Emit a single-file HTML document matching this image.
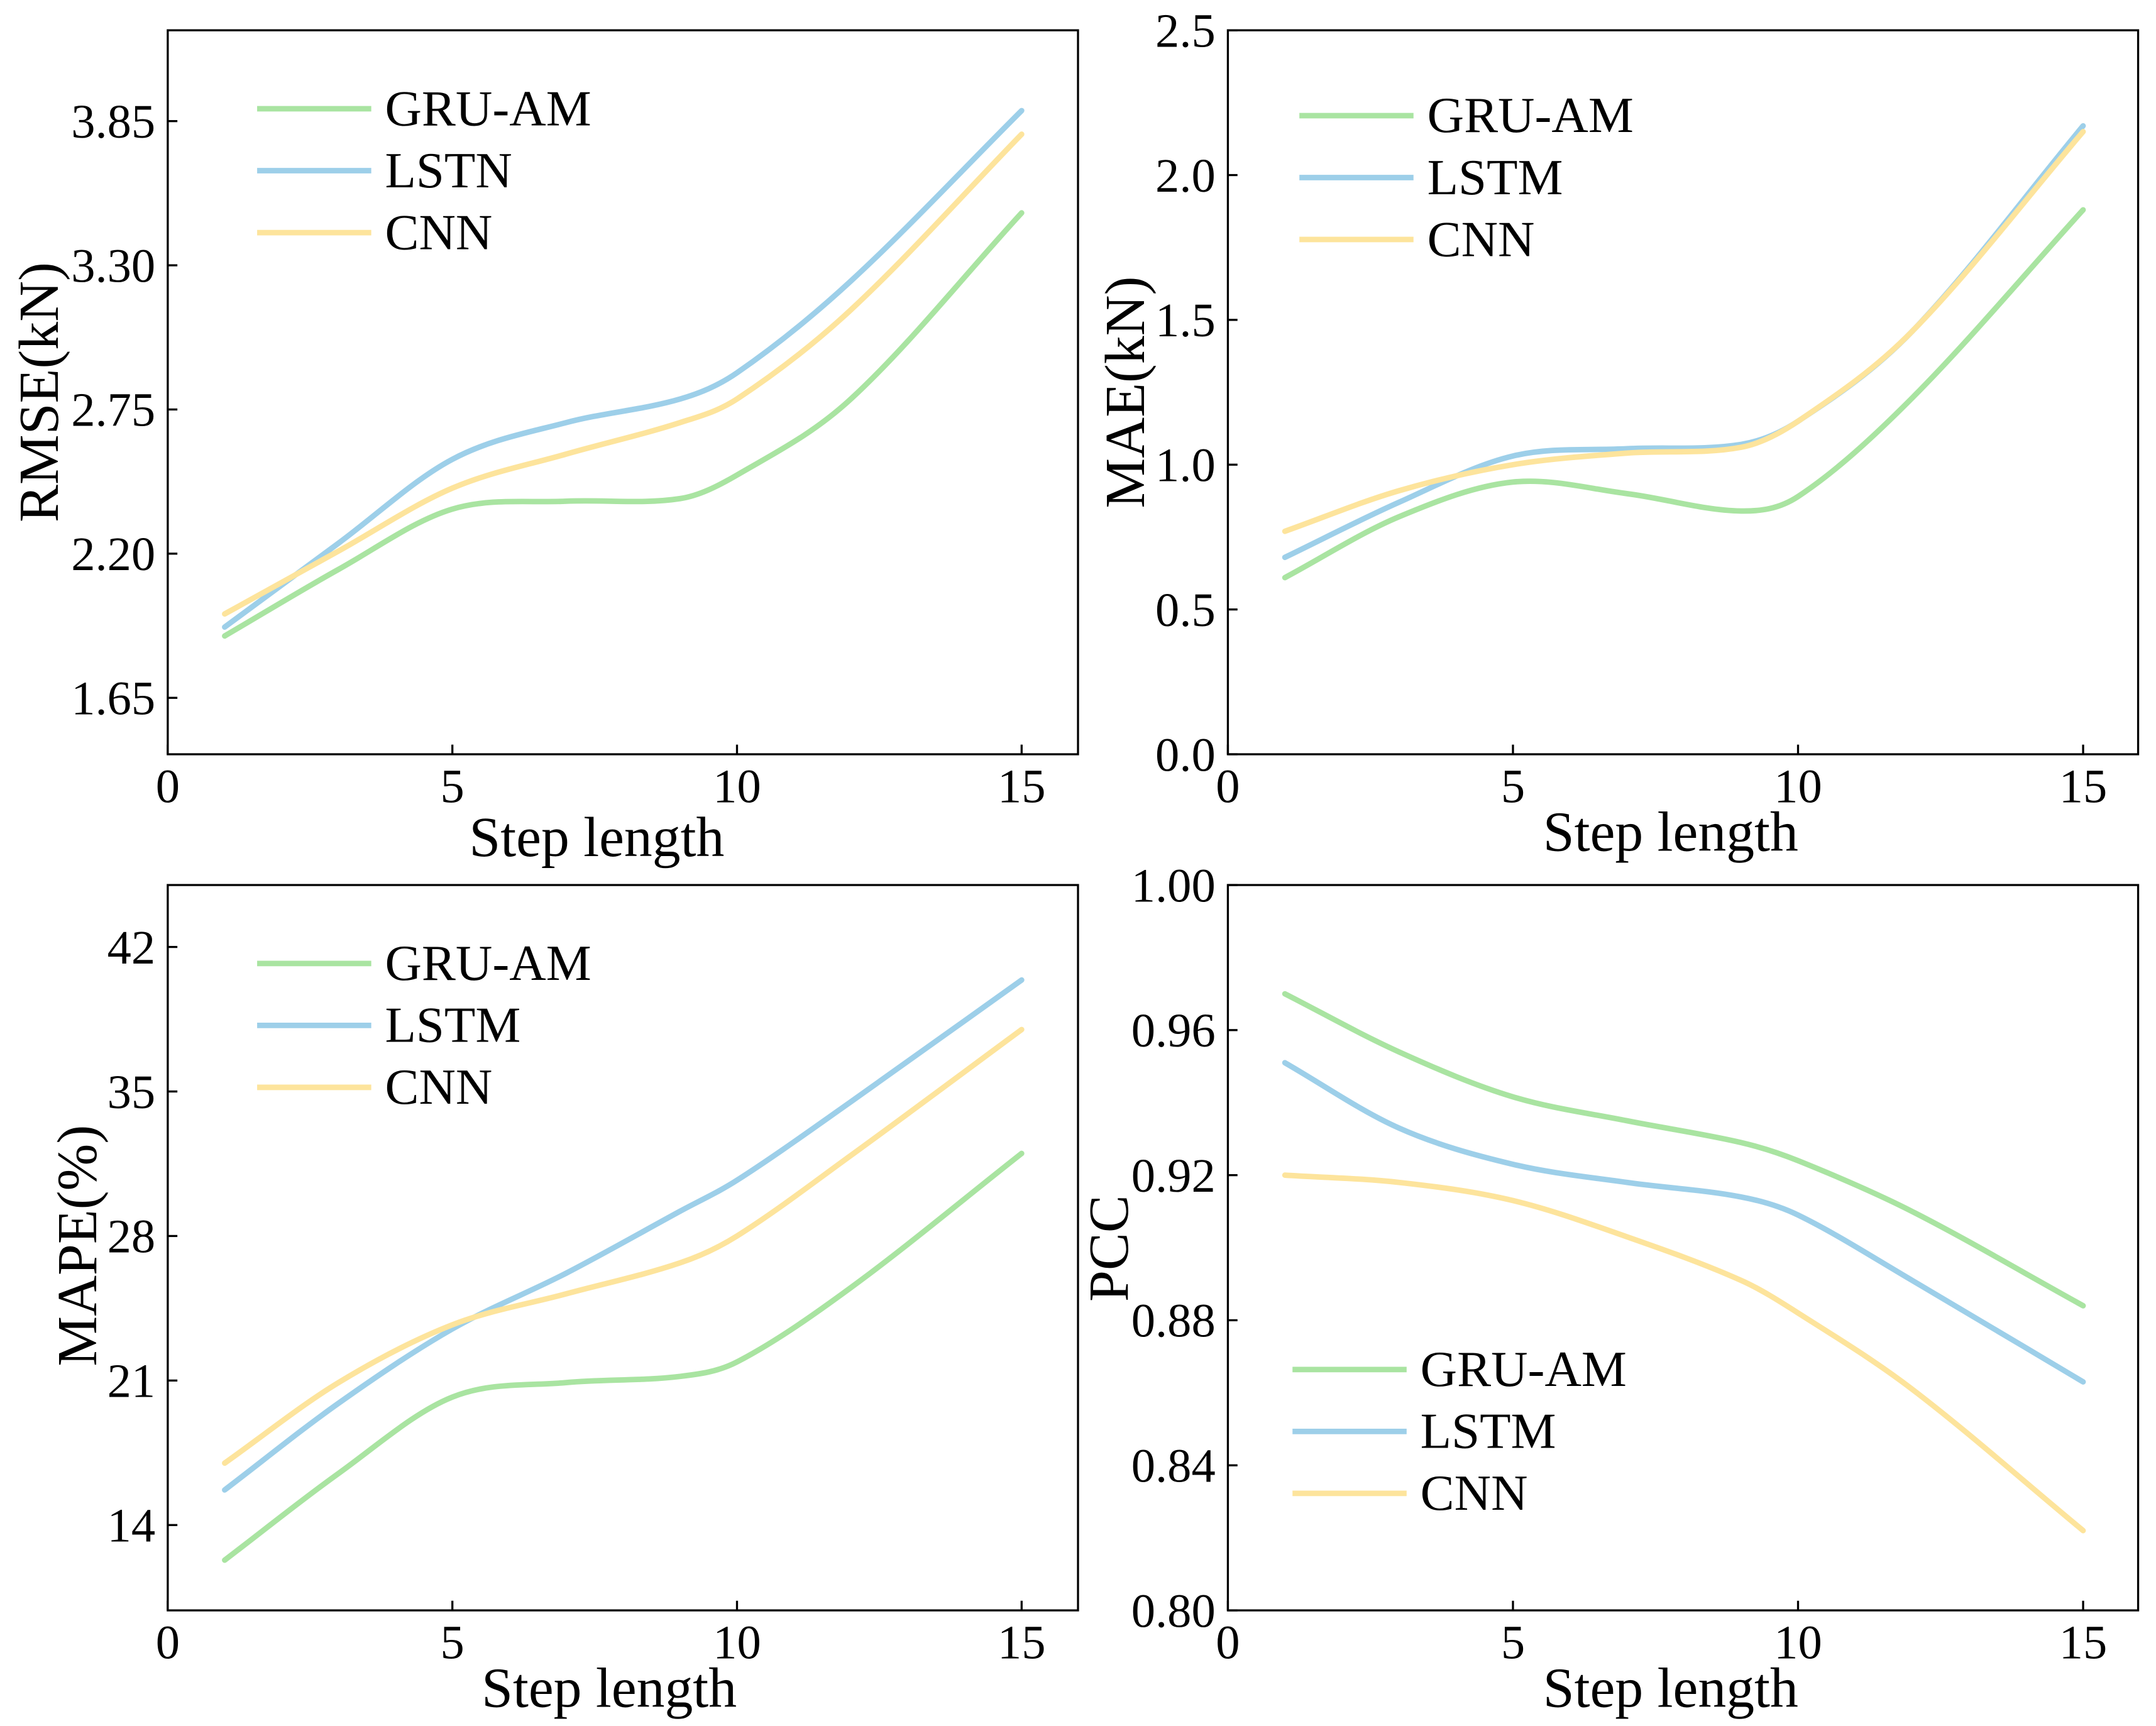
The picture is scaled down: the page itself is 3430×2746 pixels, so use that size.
<!DOCTYPE html>
<html><head><meta charset="utf-8"><style>
html,body{margin:0;padding:0;background:#fff;}
svg{display:block;}
text{font-family:"Liberation Serif",serif;fill:#000;}
</style></head><body>
<svg id="fig" width="3430" height="2746" viewBox="0 0 1568 1254" preserveAspectRatio="none" xmlns="http://www.w3.org/2000/svg"></svg>
<script>
const steps = [1,3,5,7,9,10,12,15];
const rmseGru  = [1.886,2.14,2.37,2.40,2.41,2.50,2.79,3.50];
const rmseLstn = [1.92,2.24,2.56,2.70,2.79,2.89,3.24,3.89];
const rmseCnn  = [1.97,2.21,2.45,2.58,2.70,2.79,3.13,3.80];
const maeGru  = [0.61,0.82,0.94,0.90,0.84,0.89,1.23,1.88];
const maeLstm = [0.68,0.87,1.03,1.055,1.07,1.15,1.46,2.17];
const maeCnn  = [0.77,0.91,1.00,1.04,1.06,1.15,1.46,2.15];
const mapeGru  = [12.3,16.5,20.2,20.9,21.2,21.9,25.5,32.0];
const mapeLstm = [15.7,19.9,23.5,26.2,29.2,30.7,34.5,40.4];
const mapeCnn  = [17.0,20.9,23.7,25.2,26.7,28.0,31.9,38.0];
const pccGru  = [0.970,0.954,0.9416,0.935,0.929,0.924,0.910,0.884];
const pccLstm = [0.951,0.933,0.923,0.918,0.914,0.909,0.891,0.863];
const pccCnn  = [0.920,0.918,0.913,0.903,0.891,0.882,0.861,0.822];
const xTicks = [0,5,10,15];
const rmseTicks = ["1.65","2.20","2.75","3.30","3.85"];
const maeTicks = ["0.0","0.5","1.0","1.5","2.0","2.5"];
const mapeTicks = ["14","21","28","35","42"];
const pccTicks = ["0.80","0.84","0.88","0.92","0.96","1.00"];

const NS="http://www.w3.org/2000/svg";
const svg=document.getElementById('fig');
function mk(tag,attrs,parent){const e=document.createElementNS(NS,tag);for(const k in attrs)e.setAttribute(k,attrs[k]);(parent||svg).appendChild(e);return e;}
const colors={g:"#a9e4a1",b:"#9dcfe9",y:"#fde49c"};

function smooth(pts){
  const n=pts.length;
  const m=pts.map((p,i)=>{
    const a=pts[Math.max(0,i-1)],b=pts[Math.min(n-1,i+1)];
    return (b[1]-a[1])/(b[0]-a[0]);
  });
  let d="M"+pts[0][0]+","+pts[0][1];
  for(let i=0;i<n-1;i++){
    const p1=pts[i],p2=pts[i+1],h=(p2[0]-p1[0])/3;
    d+=" C"+(p1[0]+h)+","+(p1[1]+m[i]*h)+" "+(p2[0]-h)+","+(p2[1]-m[i+1]*h)+" "+p2[0]+","+p2[1];
  }
  return d;
}

function panel(cfg){
  const g=mk('g',{});
  
  
  const {x0,x1,y0,y1}=cfg;
  const xs=v=>cfg.xz+(v)*(cfg.x15-cfg.xz)/15;
  const ys=v=>cfg.yTop+(cfg.vTop-v)*(cfg.yBot-cfg.yTop)/(cfg.vTop-cfg.vBot);
  const fr=mk('rect',{x:x0,y:y0,width:x1-x0,height:y1-y0,fill:"none",stroke:"#000","stroke-width":1.5},g);
  
  xTicks.forEach(t=>{
    const X=xs(t);
    mk('line',{x1:X,x2:X,y1:y1,y2:y1-7,stroke:"#000","stroke-width":1.5},g);
    const tx=mk('text',{x:X,y:cfg.xLabY,"font-size":35,"text-anchor":"middle"},g);
    tx.textContent=t;
    
  });
  cfg.ticks.forEach(t=>{
    const Y=ys(parseFloat(t));
    mk('line',{x1:x0,x2:x0+7,y1:Y,y2:Y,stroke:"#000","stroke-width":1.5},g);
    const tx=mk('text',{x:x0-9,y:Y+12,"font-size":35,"text-anchor":"end"},g);
    tx.textContent=t;
    
  });
  const xt=mk('text',{x:cfg.xtX,y:cfg.xtY,"font-size":41,"text-anchor":"middle"},g);
  xt.textContent="Step length";
  
  const yt=mk('text',{x:0,y:0,"font-size":41,"text-anchor":"middle",transform:`translate(${cfg.ytX},${cfg.ytY}) rotate(-90)`},g);
  yt.textContent=cfg.ytitle;
  
  cfg.series.forEach(s=>{
    const p=mk('path',{d:smooth(steps.map((v,i)=>[xs(v),ys(s.vals[i])])),fill:"none",stroke:s.c,"stroke-width":4,"stroke-linecap":"round"},g);
    
  });
  cfg.series.forEach((s,i)=>{
    const Y=cfg.legY+i*45;
    const l=mk('line',{x1:cfg.legX,x2:cfg.legX+83,y1:Y,y2:Y,stroke:s.c,"stroke-width":4},g);
    
    const t=mk('text',{x:cfg.legX+93,y:Y+12,"font-size":37},g);
    t.textContent=s.n;
    
  });
}

panel({name:'rmse-panel',x0:122,x1:784,y0:22,y1:548,xz:122,x15:743,yTop:88,vTop:3.85,yBot:507,vBot:1.65,
  ticks:rmseTicks,xLabY:583,xtX:434,xtY:622,ytX:42,ytY:285,ytitle:"RMSE(kN)",legX:187,legY:79,
  series:[{n:"GRU-AM",c:colors.g,vals:rmseGru},{n:"LSTN",c:colors.b,vals:rmseLstn},{n:"CNN",c:colors.y,vals:rmseCnn}]});
panel({name:'mae-panel',x0:893,x1:1555,y0:22,y1:548,xz:893,x15:1515,yTop:22,vTop:2.5,yBot:548,vBot:0,
  ticks:maeTicks,xLabY:583,xtX:1215,xtY:618,ytX:832,ytY:285,ytitle:"MAE(kN)",legX:945,legY:84,
  series:[{n:"GRU-AM",c:colors.g,vals:maeGru},{n:"LSTM",c:colors.b,vals:maeLstm},{n:"CNN",c:colors.y,vals:maeCnn}]});
panel({name:'mape-panel',x0:122,x1:784,y0:643,y1:1170,xz:122,x15:743,yTop:688,vTop:42,yBot:1108,vBot:14,
  ticks:mapeTicks,xLabY:1205,xtX:443,xtY:1240,ytX:70,ytY:905,ytitle:"MAPE(%)",legX:187,legY:700,
  series:[{n:"GRU-AM",c:colors.g,vals:mapeGru},{n:"LSTM",c:colors.b,vals:mapeLstm},{n:"CNN",c:colors.y,vals:mapeCnn}]});
panel({name:'pcc-panel',x0:893,x1:1555,y0:643,y1:1170,xz:893,x15:1515,yTop:643,vTop:1.0,yBot:1170,vBot:0.8,
  ticks:pccTicks,xLabY:1205,xtX:1215,xtY:1240,ytX:820,ytY:907,ytitle:"PCC",legX:940,legY:995,
  series:[{n:"GRU-AM",c:colors.g,vals:pccGru},{n:"LSTM",c:colors.b,vals:pccLstm},{n:"CNN",c:colors.y,vals:pccCnn}]});
</script>
</body></html>
